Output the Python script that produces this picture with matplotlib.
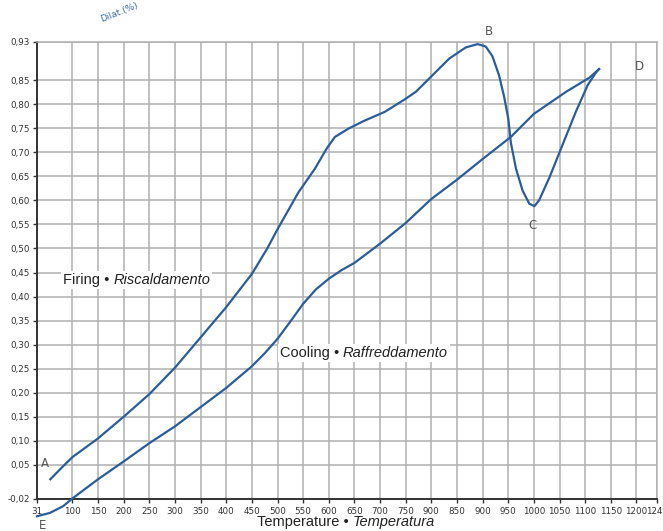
import matplotlib
matplotlib.use('Agg')
import matplotlib.pyplot as plt
from matplotlib.transforms import offset_copy

# temperature (°C) and dilatation (%)
firing_t = [57, 80, 100, 150, 200, 250, 300, 350, 400, 450, 480, 500, 541, 573,
            596, 612, 638, 670, 709, 748, 770, 802, 835, 867, 890, 906, 919, 932,
            942, 950, 955, 965, 978, 991, 1001, 1010, 1030, 1056, 1082, 1105,
            1121, 1127]
firing_v = [0.020, 0.045, 0.066, 0.105, 0.150, 0.197, 0.252, 0.315, 0.378, 0.447,
            0.500, 0.540, 0.617, 0.666, 0.708, 0.732, 0.749, 0.766, 0.784, 0.810,
            0.826, 0.860, 0.895, 0.918, 0.925, 0.920, 0.900, 0.860, 0.815, 0.770,
            0.720, 0.666, 0.620, 0.593, 0.588, 0.600, 0.647, 0.716, 0.785, 0.840,
            0.866, 0.873]

cooling_t = [1127, 1108, 1063, 1000, 955, 900, 850, 800, 750, 700, 650, 625,
             600, 575, 550, 525, 500, 475, 450, 400, 350, 300, 250, 200, 150,
             100, 82, 56, 31]
cooling_v = [0.873, 0.855, 0.826, 0.780, 0.732, 0.686, 0.643, 0.603, 0.553,
             0.510, 0.470, 0.455, 0.437, 0.415, 0.385, 0.348, 0.312, 0.282,
             0.255, 0.210, 0.170, 0.130, 0.095, 0.057, 0.020, -0.020, -0.036,
             -0.050, -0.057]

x_ticks = [31, 100, 150, 200, 250, 300, 350, 400, 450, 500, 550, 600, 650, 700,
           750, 800, 850, 900, 950, 1000, 1050, 1100, 1150, 1200, 1240]
x_tick_labels = ['31', '100', '150', '200', '250', '300', '350', '400', '450',
                 '500', '550', '600', '650', '700', '750', '900', '850', '900',
                 '950', '1000', '1050', '1100', '1150', '1200', '1240']
y_ticks = [-0.02, 0.05, 0.10, 0.15, 0.20, 0.25, 0.30, 0.35, 0.40, 0.45, 0.50,
           0.55, 0.60, 0.65, 0.70, 0.75, 0.80, 0.85, 0.93]
y_tick_labels = ['-0,02', '0,05', '0,10', '0,15', '0,20', '0,25', '0,30', '0,35',
                 '0,40', '0,45', '0,50', '0,55', '0,60', '0,65', '0,70', '0,75',
                 '0,80', '0,85', '0,93']

point_names = ['A', 'B', 'C', 'D', 'E']
point_t = [46, 913, 997, 1205, 41]
point_v = [0.052, 0.952, 0.548, 0.878, -0.077]

blue = '#2b5d9b'
grid_gray = '#b0b0b0'

fig = plt.figure(figsize=(6.63, 5.31), dpi=100)
ax = fig.add_axes([37 / 663, 1 - 498.5 / 531, 620 / 663, 456.8 / 531])

ax.plot(firing_t, firing_v, color=blue, lw=1.6, clip_on=False, zorder=3)
ax.plot(cooling_t, cooling_v, color=blue, lw=1.6, clip_on=False, zorder=3)

ax.set_xlim(31, 1240)
ax.set_ylim(-0.02, 0.93)
ax.set_xticks(x_ticks)
ax.set_xticklabels(x_tick_labels)
ax.set_yticks(y_ticks)
ax.set_yticklabels(y_tick_labels)
ax.tick_params(axis='both', labelsize=6.3, colors='#333333', length=3, width=1,
               pad=2)
ax.tick_params(axis='x', pad=3)
ax.grid(True, color=grid_gray, lw=1.1)
ax.set_axisbelow(True)
for side in ['left', 'bottom']:
    ax.spines[side].set_color('#333333')
    ax.spines[side].set_linewidth(1.4)
for side in ['top', 'right']:
    ax.spines[side].set_color(grid_gray)
    ax.spines[side].set_linewidth(1.1)

for name, t, v in zip(point_names, point_t, point_v):
    ax.text(t, v, name, fontsize=8.5, color='#555555', ha='center', va='center',
            clip_on=False)

ax.text(0.1, 1.04, 'Dilat.(%)', transform=ax.transAxes, fontsize=6.5,
        color='#3a6bb0', rotation=22, ha='left', va='bottom')


def mixed_label(x, y, plain, italic, transform, **kw):
    # regular part followed by an italic part on the same line
    t1 = ax.text(x, y, plain, transform=transform, ha='left', va='center',
                 family='Liberation Sans', **kw)
    fig.canvas.draw()
    w = t1.get_window_extent(fig.canvas.get_renderer()).width
    tr = offset_copy(transform, fig=fig, x=w * 72 / fig.dpi, units='points')
    ax.text(x, y, italic, transform=tr, ha='left', va='center',
            family='Liberation Sans', style='italic', **kw)


box = dict(facecolor='white', edgecolor='none', pad=1.5)
mixed_label(81, 0.435, 'Firing \u2022 ', 'Riscaldamento', ax.transData,
            fontsize=10.5, color='#222222', bbox=box, zorder=4)
mixed_label(504, 0.282, 'Cooling \u2022 ', 'Raffreddamento', ax.transData,
            fontsize=10.5, color='#222222', bbox=box, zorder=4)
mixed_label(0.355, -0.051, 'Temperature \u2022 ', 'Temperatura', ax.transAxes,
            fontsize=10.5, color='#222222', clip_on=False)

fig.savefig('out.png', dpi=100)
